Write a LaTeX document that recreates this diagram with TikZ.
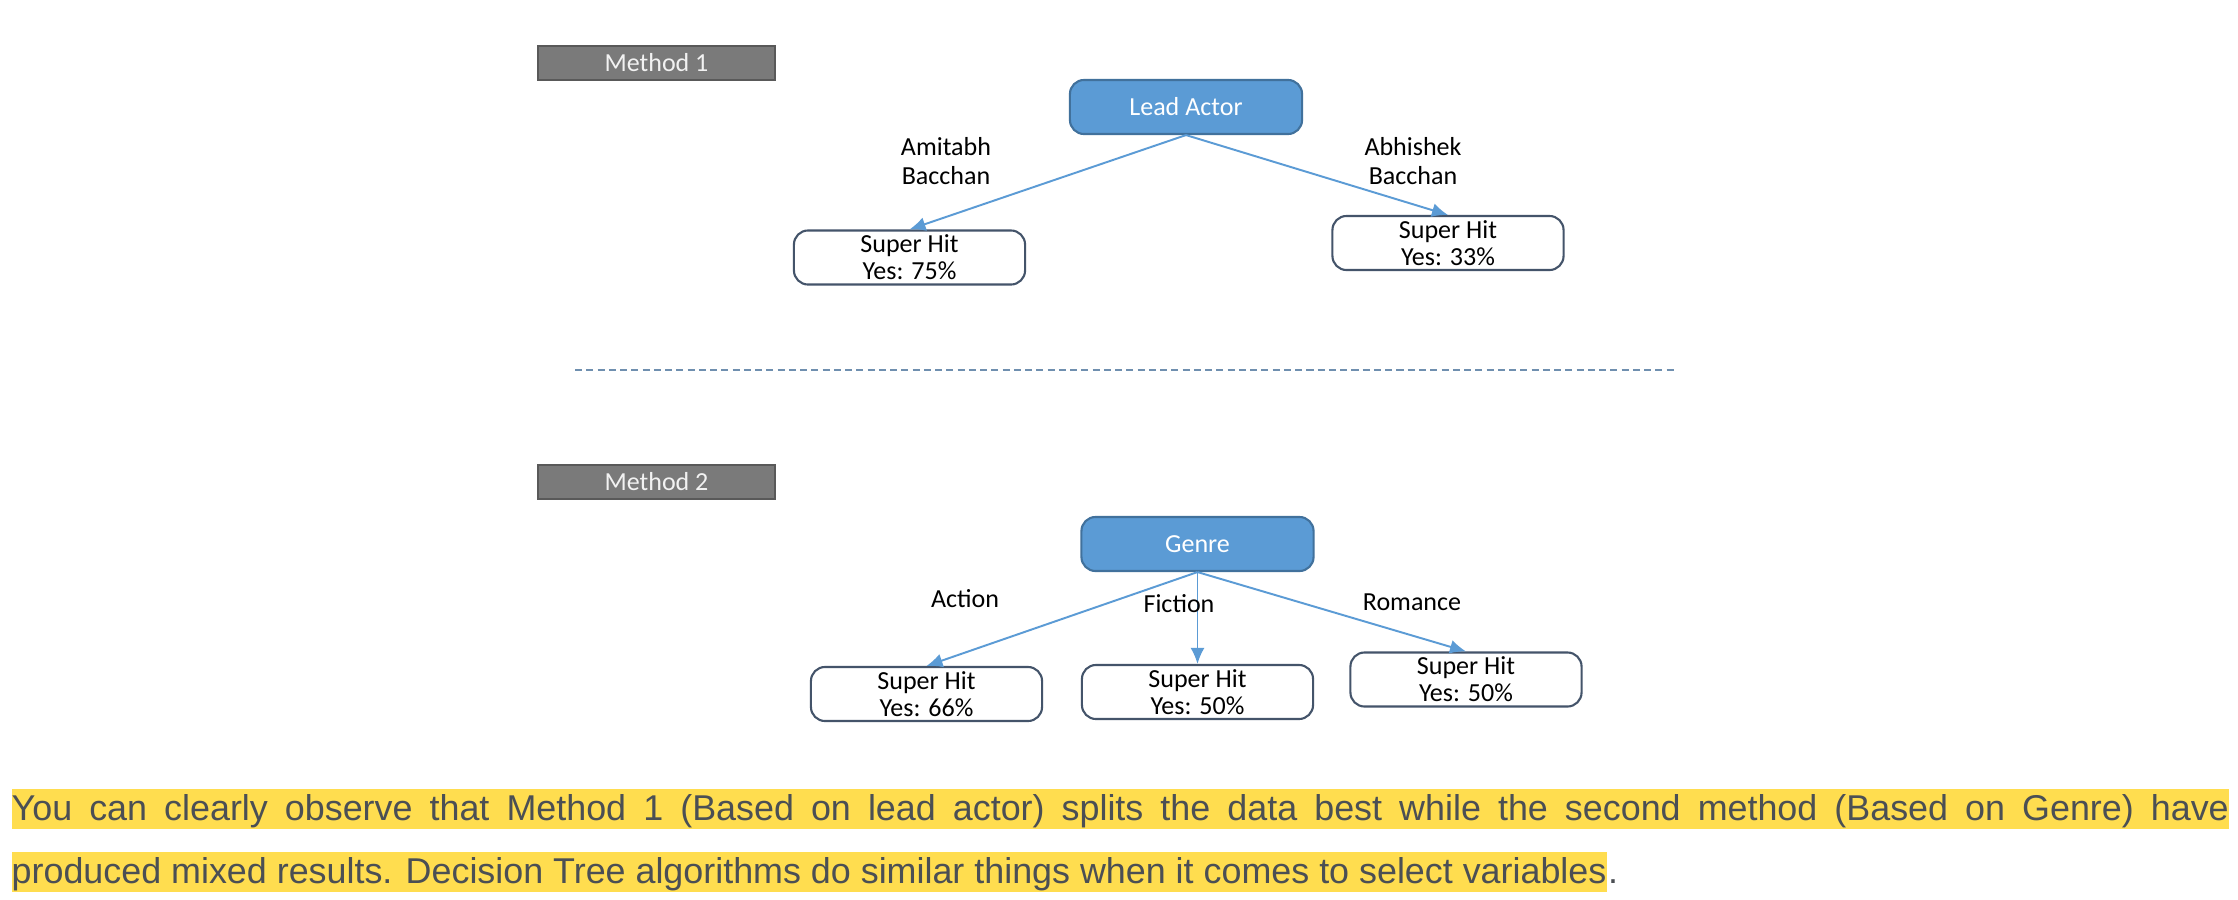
\documentclass[tikz,border=0pt]{standalone}
\usepackage{fontspec}
\setmainfont{Carlito}
\newfontfamily\parafont{Liberation Sans}
\usetikzlibrary{arrows.meta, positioning}

\definecolor{nodeblue}{HTML}{5B9BD5}
\definecolor{nodeedge}{HTML}{41719C}
\definecolor{boxedge}{HTML}{44546A}
\definecolor{tabgray}{HTML}{7A7A7A}
\definecolor{tabedge}{HTML}{595959}
\definecolor{hiliteyellow}{HTML}{FFDD4F}
\definecolor{paratext}{HTML}{4B4F54}
\definecolor{dashblue}{HTML}{6F8FAF}

\begin{document}
\begin{tikzpicture}[x=0.01cm, y=-0.01cm, font=\fontsize{7.4}{7.7}\selectfont, >=Latex]
  % Styles
  \tikzset{
    tab/.style={draw=tabedge, line width=0.5pt, fill=tabgray, text=white!95!black, minimum width=2.37cm, minimum height=0.34cm, inner sep=0pt},
    root/.style={rounded corners=4pt, draw=nodeedge, line width=0.6pt, fill=nodeblue, text=white, minimum width=2.32cm, minimum height=0.54cm, inner sep=0pt},
    leaf/.style={rounded corners=4pt, draw=boxedge, line width=0.6pt, fill=white, align=center, minimum width=2.31cm, minimum height=0.54cm, inner sep=0pt},
    branch/.style={align=center, font=\fontsize{7.4}{8.3}\selectfont, inner sep=1pt},
    arrow/.style={-{Latex[length=1.6mm,width=1.4mm]}, draw=nodeblue, line width=0.55pt},
    hl/.style={fill=hiliteyellow, text=paratext, font=\parafont\fontsize{10.2}{12}\selectfont, inner xsep=0pt, inner ysep=0pt, text height=0.32cm, text depth=0.08cm}
  }

  \fill[white] (0,0) rectangle (2238,900);
  \useasboundingbox (0,0) rectangle (2238,900);

  % Method 1
  \node[tab] (m1) at (656.5,63) {Method 1};
  \node[root] (lead) at (1186,107) {Lead Actor};
  \node[leaf] (hit1) at (909.5,257.5) {Super Hit\\Yes: 75\%};
  \node[leaf] (hit2) at (1448,243) {Super Hit\\Yes: 33\%};
  \node[branch] (amit) at (946,161) {Amitabh\\Bacchan};
  \node[branch] (abhi) at (1413,161) {Abhishek\\Bacchan};

  \draw[arrow] (lead.south) -- (hit1.north);
  \draw[arrow] (lead.south) -- (hit2.north);

  % Separator
  \coordinate (sepL) at (575,370);
  \coordinate (sepR) at (1677,370);
  \draw[dashblue, line width=0.5pt, dash pattern=on 2pt off 1.2pt] (sepL) -- (sepR);

  % Method 2
  \node[tab] (m2) at (656.5,482) {Method 2};
  \node[root] (genre) at (1197.5,544) {Genre};
  \node[leaf] (hit3) at (926.5,694) {Super Hit\\Yes: 66\%};
  \node[leaf] (hit4) at (1197.5,692) {Super Hit\\Yes: 50\%};
  \node[leaf] (hit5) at (1466,679.5) {Super Hit\\Yes: 50\%};

  \draw[arrow] (genre.south) -- (hit3.north);
  \draw[arrow] (genre.south) -- (hit4.north);
  \draw[arrow] (genre.south) -- (hit5.north);

  \node[branch] (action) at (965,599) {Action};
  \node[branch] (fiction) at (1179,604) {Fiction};
  \node[branch] (romance) at (1412,602) {Romance};

  % Caption
  \node[hl, anchor=north west] (line1) at (11,788) {\makebox[22.16cm][s]{You can clearly observe that Method 1 (Based on lead actor) splits the data best while the second method (Based on Genre) have}};
  \node[hl, anchor=north west] (line2) at (11,851) {produced mixed results. Decision Tree algorithms do similar things when it comes to select variables};
  \node[hl, fill=none, right=0pt of line2] (stop) {.};
\end{tikzpicture}
\end{document}
